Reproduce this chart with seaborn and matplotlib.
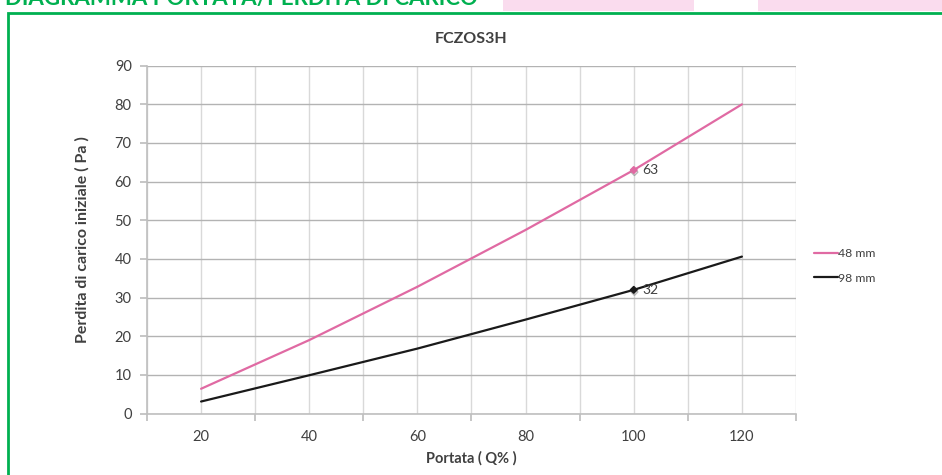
import matplotlib
matplotlib.use("Agg")
import matplotlib.pyplot as plt
import matplotlib.patches as mpatches
import matplotlib.patheffects as pe
import seaborn as sns
import pandas as pd

# ---- data ----
portata = [20, 40, 60, 80, 100, 120]
perdita_48 = [6.4, 19.0, 32.8, 47.5, 63.0, 80.0]
perdita_98 = [3.1, 9.9, 16.8, 24.3, 32.0, 40.6]
series_names = ["48 mm", "98 mm"]
series_colors = ["#e06aa3", "#1a1a1a"]
label_x = 100
title = "FCZOS3H"
header = "DIAGRAMMA PORTATA/PERDITA DI CARICO"
xlabel = "Portata ( Q% )"
ylabel = "Perdita di carico iniziale ( Pa )"

df = pd.DataFrame({
    "Portata": portata * 2,
    "Perdita": perdita_48 + perdita_98,
    "Serie": [series_names[0]] * len(portata) + [series_names[1]] * len(portata),
})

sns.set_theme(style="white")
plt.rcParams["font.family"] = ["Lato", "DejaVu Sans"]

W, H = 942, 475
fig = plt.figure(figsize=(W / 100, H / 100), dpi=100)
fig.patch.set_facecolor("white")

# header decorations
green = "#00b050"
fig.patches.append(mpatches.Rectangle((7.5 / W, -0.1), 1.1, 1 - 12.5 / H + 0.1, transform=fig.transFigure,
                                      fill=False, edgecolor=green, linewidth=2.0, zorder=0))
for x0, x1 in [(503, 694), (758, 942)]:
    fig.patches.append(mpatches.Rectangle((x0 / W, 1 - 11 / H), (x1 - x0) / W, 11 / H,
                                          transform=fig.transFigure, facecolor="#fadcee",
                                          edgecolor="none", zorder=0))
fig.text(5 / W, 1 - 4.5 / H, header, color=green, fontsize=16, fontweight="bold",
         va="baseline", ha="left")

ax = fig.add_axes([147 / W, 1 - 413.5 / H, (796 - 147) / W, (413.5 - 65.7) / H])

sns.lineplot(data=df, x="Portata", y="Perdita", hue="Serie", palette=series_colors,
             linewidth=1.6, ax=ax, legend=True, zorder=3)

# marker + data labels at 100
for vals, col in zip([perdita_48, perdita_98], series_colors):
    i = portata.index(label_x)
    ax.plot([portata[i]], [vals[i]], marker="D", markersize=3.5, color=col, zorder=4,
            path_effects=[pe.SimpleLineShadow(offset=(0.5, -1.5), shadow_color="#888888", alpha=0.6),
                          pe.Normal()])
    ax.annotate(f"{vals[i]:g}", (portata[i], vals[i]), xytext=(6, 0), textcoords="offset points",
                va="center", ha="left", fontsize=10, color="#404040")

ax.set_xlim(10, 130)
ax.set_ylim(0, 90)
ax.set_xticks([10, 30, 50, 70, 90, 110, 130])
ax.set_xticks(portata, minor=True)
ax.set_xticklabels([])
ax.set_xticklabels([str(v) for v in portata], minor=True)
ax.tick_params(axis="x", which="major", length=5, color="#bfbfbf", direction="out", bottom=True)
ax.tick_params(axis="x", which="minor", length=0, pad=12, labelsize=10.5, labelcolor="#404040")
ax.set_yticks(range(0, 91, 10))
ax.tick_params(axis="y", which="major", length=5, color="#bfbfbf", direction="out", left=True,
               labelsize=10.5, labelcolor="#404040", pad=6)

ax.grid(False)
ax.xaxis.grid(True, which="both", color="#d9d9d9", linewidth=1)
ax.yaxis.grid(True, which="major", color="#b3b3b3", linewidth=1)
ax.set_axisbelow(True)
for s in ["top", "right"]:
    ax.spines[s].set_visible(False)
for s in ["left", "bottom"]:
    ax.spines[s].set_color("#bfbfbf")
    ax.spines[s].set_linewidth(1.2)

ax.set_xlabel(xlabel, fontsize=10.5, fontweight="bold", color="#404040", labelpad=5)
ax.set_ylabel(ylabel, fontsize=11.5, fontweight="bold", color="#404040", labelpad=18)
ax.set_title(title, fontsize=11.5, fontweight="bold", color="#404040", pad=16)

leg = ax.legend(loc="center left", bbox_to_anchor=(814 / W, 1 - 266 / H),
                bbox_transform=fig.transFigure, frameon=False, fontsize=8.8,
                borderpad=0, borderaxespad=0,
                handlelength=1.95, handletextpad=0.05, labelspacing=1.1, title=None)
for t in leg.get_texts():
    t.set_color("#404040")

fig.savefig("out.png", dpi=100)
